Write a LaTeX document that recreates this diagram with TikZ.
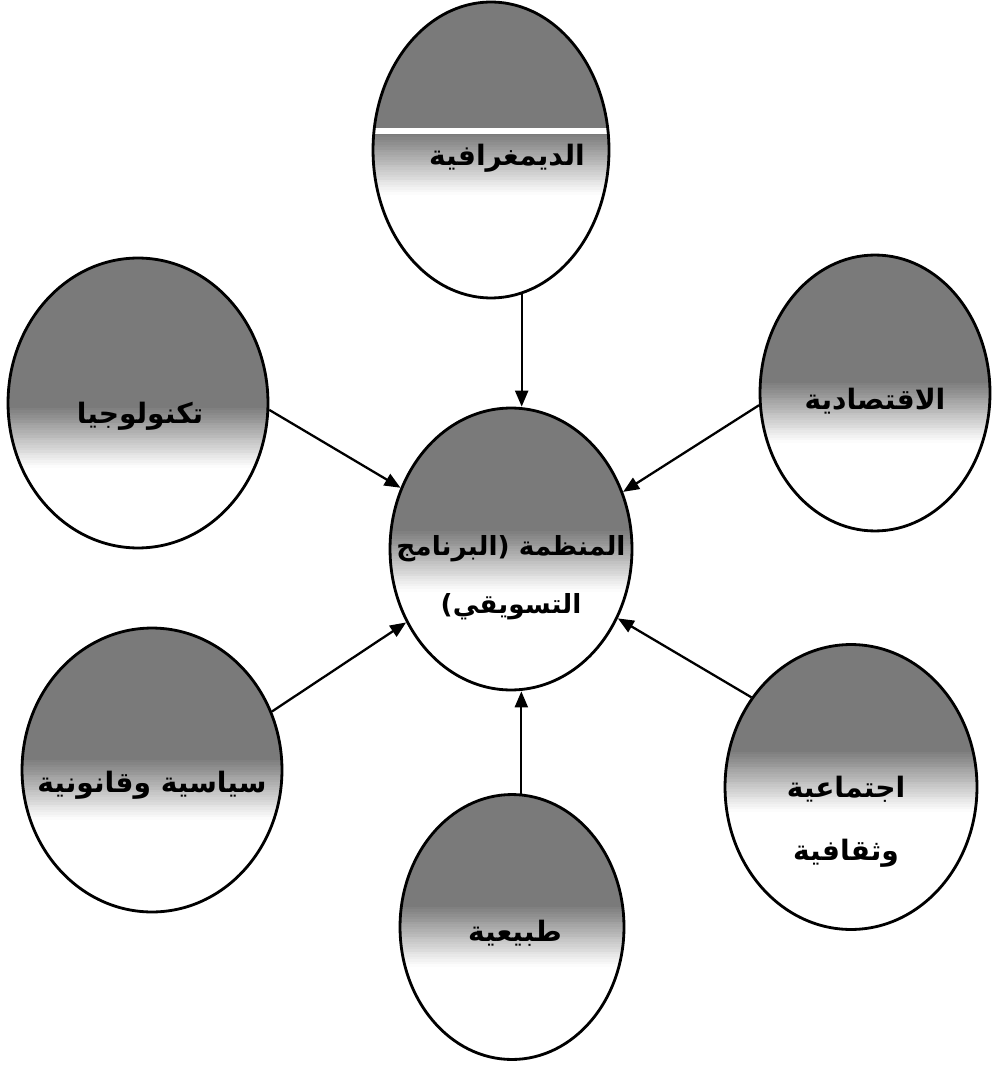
\documentclass[tikz,border=0pt]{standalone}
\usepackage{fontspec}
\usetikzlibrary{shapes.geometric,arrows.meta}
\newfontfamily\arabicfont[Script=Arabic]{DejaVu Sans}
\TeXXeTstate=1
\newcommand\envfade[1]{%
  \fill[black!52] (path picture bounding box.north west) rectangle ([yshift={#1+1.2cm}]path picture bounding box.east);
  \foreach \i in {0,...,23}{%
    \pgfmathtruncatemacro\fadec{52*(1-(\i+0.5)/24)}%
    \fill[black!\fadec] ([yshift={#1+1.2cm-\i*0.05cm+0.005cm}]path picture bounding box.west)
      rectangle ([yshift={#1+1.2cm-(\i+1)*0.05cm-0.005cm}]path picture bounding box.east);
  }%
}
\tikzset{
  env/.style={ellipse, draw, line width=1.6pt, inner sep=0pt},
  shadeto/.style={path picture={\envfade{#1}}},
  lbl/.style={font=\arabicfont\bfseries\fontsize{16}{33}\selectfont, align=center, inner sep=1pt},
  arr/.style={line width=1.3pt, -{Triangle[length=0.32cm,width=0.26cm]}}
}
\begin{document}
\begin{tikzpicture}[x=0.02cm,y=-0.02cm]
\useasboundingbox (0,0) rectangle (993,1070);
% ellipses
\node[env, minimum width=4.72cm, minimum height=5.92cm, path picture={\envfade{-0.9cm}
    \fill[white] ([yshift=0.44cm]path picture bounding box.west) rectangle ([yshift=0.32cm]path picture bounding box.east);}]
  (topE) at (491,150) {};
\node[env, shadeto=-1.3cm, minimum width=5.2cm, minimum height=5.8cm] (lu) at (138,403) {};
\node[env, shadeto=-1.0cm, minimum width=4.6cm, minimum height=5.52cm] (ru) at (875,393) {};
\node[env, shadeto=-0.85cm, minimum width=4.84cm, minimum height=5.64cm] (cen) at (511,549) {};
\node[env, shadeto=-1.0cm, minimum width=5.2cm, minimum height=5.68cm] (ll) at (152,770) {};
\node[env, shadeto=-0.5cm, minimum width=5.04cm, minimum height=5.7cm] (rl) at (851,787) {};
\node[env, shadeto=-0.8cm, minimum width=4.48cm, minimum height=5.3cm] (bot) at (512,927) {};
% labels
\node[lbl] (tTop) at (507,158) {\beginR الديمغرافية\endR};
\node[lbl] (tLu) at (140,416) {\beginR تكنولوجيا\endR};
\node[lbl] (tRu) at (875,401) {\beginR الاقتصادية\endR};
\node[lbl, font=\arabicfont\bfseries\fontsize{15}{33}\selectfont] (tCen) at (511,578) {\beginR المنظمة (البرنامج\endR\\\beginR التسويقي)\endR};
\node[lbl] (tLl) at (152,785) {\beginR سياسية وقانونية\endR};
\node[lbl] (tRl) at (846,822) {\beginR اجتماعية\endR\\[3pt]\beginR وثقافية\endR};
\node[lbl] (tBot) at (515,933) {\beginR طبيعية\endR};
% connectors
\draw[arr] (topE.-78) -- (topE.-78 |- cen.north);
\draw[arr] (lu.-3) -- (cen.151);
\draw[arr] (ru.186) -- (cen.27);
\draw[arr] (ll.26) -- (cen.-145);
\draw[arr] (rl.138) -- (cen.-33);
\draw[arr] (bot.86) -- (bot.86 |- cen.south);
\end{tikzpicture}
\end{document}
